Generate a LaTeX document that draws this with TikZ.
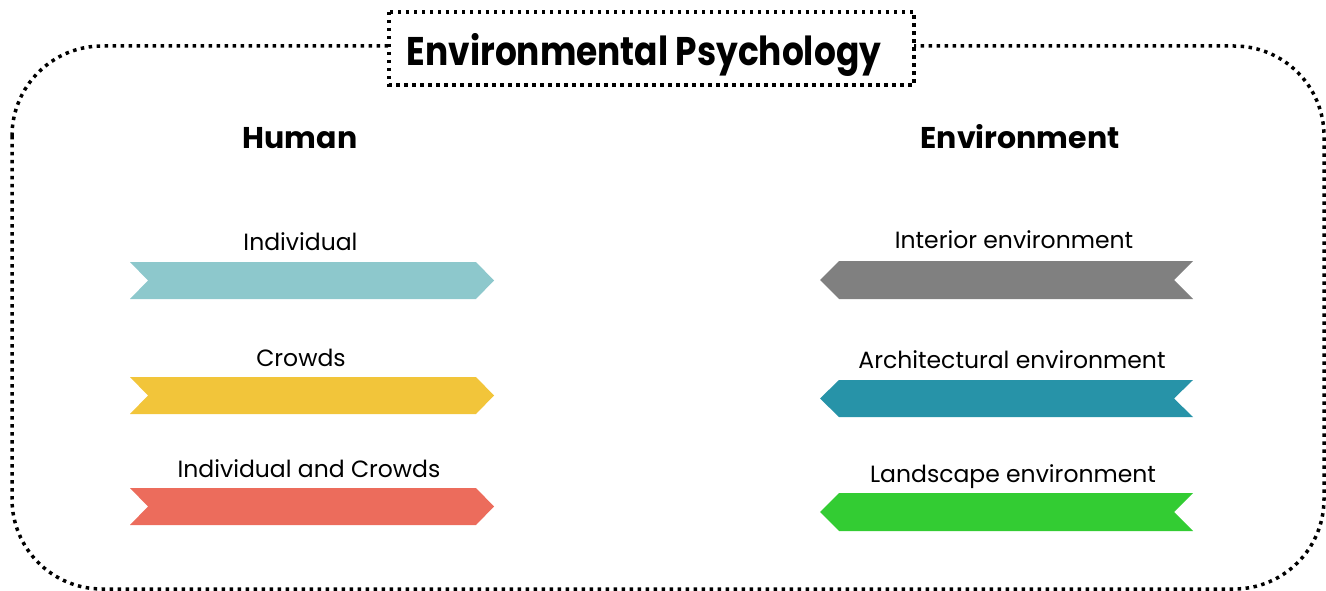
\documentclass[tikz,border=0pt]{standalone}
\usepackage{fontspec}
\setmainfont{Poppins}
\newfontfamily\ttlfont{Poppins}[FakeStretch=0.86]
\begin{document}
\begin{tikzpicture}[x=1pt,y=-1pt]
\useasboundingbox (0,0) rectangle (1326,591);
\tikzset{
  dotline/.style={line width=3.5pt, dash pattern=on 3.5pt off 4.5pt},
  lbl/.style={font=\fontsize{23.5}{28}\selectfont, anchor=base, inner sep=0pt},
  head/.style={font=\fontsize{30}{36}\selectfont\bfseries, anchor=base, inner sep=0pt},
  ttl/.style={font=\ttlfont\fontsize{40}{48}\selectfont\bfseries, anchor=base, inner sep=0pt},
}
\definecolor{cIndiv}{HTML}{8DC8CC}
\definecolor{cCrowd}{HTML}{F2C53A}
\definecolor{cBoth}{HTML}{EC6C5C}
\definecolor{cInt}{HTML}{808080}
\definecolor{cArch}{HTML}{2793A8}
\definecolor{cLand}{HTML}{33CC33}
% outer frame
\draw[dotline, rounded corners=90pt] (12,46) rectangle (1324,589);
% title
\path[draw, dotline, fill=white] (389,12) rectangle (914,85);
\node[ttl] (title) at (644,66) {Environmental Psychology};
% headings
\node[head] (human) at (300,149) {Human};
\node[head] (env) at (1020,149) {Environment};
% left ribbons
\fill[cIndiv] (130,262) -- (476,262) -- (494,280.5) -- (476,299) -- (130,299) -- (148,280.5) -- cycle;
\fill[cCrowd] (130,377) -- (476,377) -- (494,395.5) -- (476,414) -- (130,414) -- (148,395.5) -- cycle;
\fill[cBoth] (130,488) -- (476,488) -- (494,506.5) -- (476,525) -- (130,525) -- (148,506.5) -- cycle;
% right ribbons
\fill[cInt] (1193,261) -- (839,261) -- (820,280) -- (839,299) -- (1193,299) -- (1174,280) -- cycle;
\fill[cArch] (1193,380) -- (839,380) -- (820,398.5) -- (839,417) -- (1193,417) -- (1174,398.5) -- cycle;
\fill[cLand] (1193,493) -- (839,493) -- (820,512) -- (839,531) -- (1193,531) -- (1174,512) -- cycle;
% labels
\node[lbl] (l1) at (300.5,251) {Individual};
\node[lbl] (l2) at (301,366) {Crowds};
\node[lbl] (l3) at (309,477) {Individual and Crowds};
\node[lbl] (r1) at (1014,248) {Interior environment};
\node[lbl] (r2) at (1012,368) {Architectural environment};
\node[lbl] (r3) at (1013,482) {Landscape environment};
\end{tikzpicture}
\end{document}
